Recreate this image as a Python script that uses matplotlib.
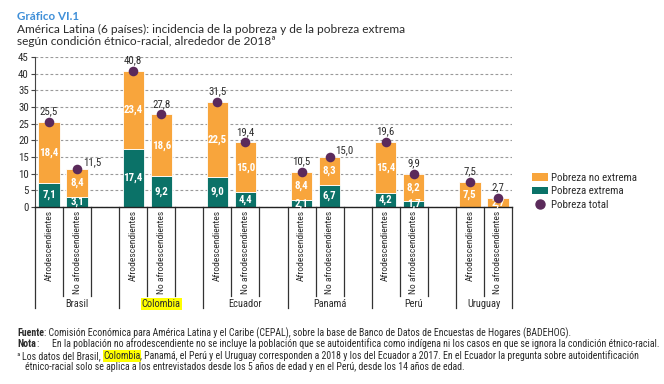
import matplotlib
matplotlib.use("Agg")
import matplotlib.pyplot as plt
from matplotlib import font_manager
from matplotlib.patches import Patch
from matplotlib.lines import Line2D
from matplotlib.transforms import blended_transform_factory

# data
countries = ["Brasil", "Colombia", "Ecuador", "Panamá", "Perú", "Uruguay"]
groups = ["Afrodescendientes", "No afrodescendientes"]

extrema_afro = [7.1, 17.4, 9.0, 2.1, 4.2, 0.0]
no_extrema_afro = [18.4, 23.4, 22.5, 8.4, 15.4, 7.5]
total_afro = [25.5, 40.8, 31.5, 10.5, 19.6, 7.5]

extrema_no_afro = [3.1, 9.2, 4.4, 6.7, 1.7, 0.0]
no_extrema_no_afro = [8.4, 18.6, 15.0, 8.3, 8.2, 2.7]
total_no_afro = [11.5, 27.8, 19.4, 15.0, 9.9, 2.7]

yticks = [0, 5, 10, 15, 20, 25, 30, 35, 40, 45]

ORANGE = "#F8A53C"
TEAL = "#0B7268"
PURPLE = "#5B2A5B"
TEXT = "#2B2B2B"
BLUE = "#3F8FD8"

# fonts
names = {f.name for f in font_manager.fontManager.ttflist}
narrow = None
for cand in ["Liberation Sans Narrow", "DejaVu Sans Condensed", "Roboto Condensed"]:
    if cand in names:
        narrow = cand
        break
if narrow is None:
    NARROW = dict(family="DejaVu Sans", stretch="condensed")
else:
    NARROW = dict(family=narrow)
TITLE_FONT = "Lato" if "Lato" in names else "DejaVu Sans"


def fmt(v):
    return f"{v:.1f}".replace(".", ",")


fig = plt.figure(figsize=(6.64, 3.84), dpi=100)
ax = fig.add_axes([35 / 664, 1 - 207 / 384, (512 - 35) / 664, 150 / 384])

n_slots = 3 * len(countries) - 1
bar_w = 0.76

for i in range(len(countries)):
    x_a = 3 * i
    x_n = 3 * i + 1
    for x, ext, noext, tot, side in [
        (x_a, extrema_afro[i], no_extrema_afro[i], total_afro[i], False),
        (x_n, extrema_no_afro[i], no_extrema_no_afro[i], total_no_afro[i], i in (0, 3)),
    ]:
        ax.bar(x, ext, bar_w, color=TEAL, edgecolor="white", linewidth=0.6, zorder=2)
        ax.bar(x, noext, bar_w, bottom=ext, color=ORANGE, edgecolor="white",
               linewidth=0.6, zorder=2)
        if ext > 0:
            ax.text(x, ext / 2, fmt(ext), ha="center", va="center", color="white",
                    fontsize=7.8, fontweight="bold", zorder=4, **NARROW)
        ax.text(x, ext + noext / 2, fmt(noext), ha="center", va="center",
                color="white", fontsize=7.8, fontweight="bold", zorder=4, **NARROW)
        ax.scatter([x], [tot], s=48, color=PURPLE, zorder=5, linewidths=0)
        if side:
            ax.annotate(fmt(tot), (x, tot), xytext=(4, 1), textcoords="offset points",
                        ha="left", va="bottom", fontsize=7.8, color=TEXT, **NARROW)
        else:
            ax.annotate(fmt(tot), (x, tot), xytext=(0, 4), textcoords="offset points",
                        ha="center", va="bottom", fontsize=7.8, color=TEXT, **NARROW)

ax.set_xlim(-0.5, n_slots - 0.5)
ax.set_ylim(0, 45)
ax.set_yticks(yticks)
ax.set_yticklabels([str(t) for t in yticks], fontsize=7.8, color=TEXT, **NARROW)
ax.tick_params(axis="y", length=3, width=0.8, pad=1.5, color="#444444")
ax.set_xticks([])
ax.yaxis.grid(True, linestyle=(0, (2.5, 2)), color="#9a9a9a", linewidth=0.8)
ax.set_axisbelow(True)
for s in ["top", "right"]:
    ax.spines[s].set_visible(False)
ax.spines["left"].set_color("#444444")
ax.spines["bottom"].set_color("#222222")
ax.spines["left"].set_linewidth(0.8)
ax.spines["bottom"].set_linewidth(1.0)

# category axis below the bars
trans = blended_transform_factory(ax.transData, ax.transAxes)
group_edges = [-0.5] + [3 * i + 2.5 for i in range(len(countries) - 1)] + [n_slots - 0.5]
for e in group_edges:
    ax.plot([e, e], [0, -0.675], transform=trans, color="#333333", lw=0.9, clip_on=False)
for i in range(len(countries)):
    inner = [3 * i + 0.5]
    if i < len(countries) - 1:
        inner.append(3 * i + 1.5)
    for e in inner:
        ax.plot([e, e], [0, -0.59], transform=trans, color="#333333", lw=0.9,
                clip_on=False)
    for k, g in enumerate(groups):
        ax.text(3 * i + k, -0.022, g, rotation=90, ha="center", va="top",
                fontsize=6.8, color=TEXT, transform=trans, **NARROW)
    centre = (group_edges[i] + group_edges[i + 1]) / 2
    box = dict(facecolor="#FFFF00", edgecolor="none", pad=0.6) if countries[i] == "Colombia" else None
    ax.text(centre, -0.645, countries[i], ha="center", va="center", fontsize=7.5,
            color=TEXT, transform=trans, bbox=box, **NARROW)

# legend
handles = [
    Patch(facecolor=ORANGE, edgecolor="none", label="Pobreza no extrema"),
    Patch(facecolor=TEAL, edgecolor="none", label="Pobreza extrema"),
    Line2D([], [], marker="o", linestyle="none", markersize=6.5, color=PURPLE,
           label="Pobreza total"),
]
leg = fig.legend(handles=handles, loc="upper left", bbox_to_anchor=(522 / 664, 1 - 163 / 384),
                 frameon=False, handlelength=1.5, handleheight=0.7,
                 handletextpad=0.3, labelspacing=0.32, prop=dict(size=7.8, **NARROW))
for t in leg.get_texts():
    t.set_color(TEXT)

# titles
fig.text(17 / 664, 1 - 20 / 384, "Gráfico VI.1", color=BLUE, fontsize=8.4,
         fontweight="bold", family=TITLE_FONT, va="baseline")
fig.text(17 / 664, 1 - 33.3 / 384,
         "América Latina (6 países): incidencia de la pobreza y de la pobreza extrema",
         color=TEXT, fontsize=8.6, family=TITLE_FONT, va="baseline")
fig.text(17 / 664, 1 - 45 / 384,
         "según condición étnico-racial, alrededor de 2018ª",
         color=TEXT, fontsize=8.6, family=TITLE_FONT, va="baseline")

# footnotes with mixed styling
renderer = fig.canvas.get_renderer()


def text_width(s, props):
    t1 = fig.text(0, 0, s + ".", **props)
    t2 = fig.text(0, 0, ".", **props)
    w = t1.get_window_extent(renderer).width - t2.get_window_extent(renderer).width
    t1.remove()
    t2.remove()
    return w / fig.bbox.width


def rich_line(x, ybase, pieces):
    for s, extra in pieces:
        props = dict(fontsize=7.1, color=TEXT, va="baseline", **NARROW)
        props.update(extra)
        fig.text(x, 1 - ybase / 384, s, **props)
        x += text_width(s, props)


B = dict(fontweight="bold")
HL = dict(bbox=dict(facecolor="#FFFF00", edgecolor="none", pad=0.4))
rich_line(17 / 664, 336, [
    ("Fuente", B),
    (": Comisión Económica para América Latina y el Caribe (CEPAL), sobre la base de "
     "Banco de Datos de Encuestas de Hogares (BADEHOG).", {}),
])
rich_line(17 / 664, 347, [("Nota", B), (":", {})])
rich_line(52 / 664, 347, [
    ("En la población no afrodescendiente no se incluye la población que se autoidentifica "
     "como indígena ni los casos en que se ignora la condición étnico-racial.", {}),
])
rich_line(17 / 664, 359, [
    ("ª ", dict(fontsize=6)),
    ("Los datos del Brasil, ", {}),
    ("Colombia", HL),
    (", Panamá, el Perú y el Uruguay corresponden a 2018 y los del Ecuador a 2017. "
     "En el Ecuador la pregunta sobre autoidentificación", {}),
])
rich_line(25 / 664, 370, [
    ("étnico-racial solo se aplica a los entrevistados desde los 5 años de edad y en el "
     "Perú, desde los 14 años de edad.", {}),
])

fig.savefig("out.png", dpi=100, facecolor="white")
